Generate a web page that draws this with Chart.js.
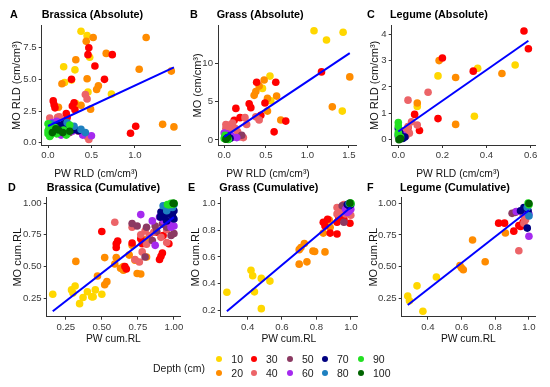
<!DOCTYPE html>
<html><head><meta charset="utf-8">
<script src="https://cdn.jsdelivr.net/npm/chart.js@4.4.0/dist/chart.umd.min.js"></script>
<style>
html,body{margin:0;padding:0;background:#fff;width:550px;height:387px;overflow:hidden;font-family:"Liberation Sans",Arial,sans-serif;}
#wrap{position:relative;width:550px;height:387px;}
.pc{position:absolute;}
.pt{position:absolute;font-weight:bold;font-size:10.8px;line-height:12px;height:12px;color:#000;white-space:nowrap;}
.lg{position:absolute;font-size:10.5px;line-height:12px;height:12px;color:#1a1a1a;white-space:nowrap;}
.xt{position:absolute;font-size:10.3px;line-height:12px;height:12px;color:#111;white-space:nowrap;transform:translateX(-50%);}
.dot{position:absolute;width:6px;height:6px;border-radius:50%;}
</style></head>
<body><div id="wrap"></div>
<script>
// ---------- categories ----------
const depths = [10, 20, 30, 40, 50, 60, 70, 80, 90, 100];

// ---------- A: Brassica (Absolute) ----------
const brassicaAbsX = [
  0.38,0.45,0.48,0.18,0.31,0.27,0.46,0.73,0.32,0.19,0.08,0.04,
  0.44,0.52,1.13,0.67,0.32,0.45,1.05,1.42,0.16,0.58,0.56,0.38,0.49,0.12,1.32,1.45,
  0.47,0.46,0.74,0.54,0.27,0.65,0.06,0.07,0.08,0.30,0.28,0.21,0.31,0.95,1.01,0.22,
  0.43,0.45,0.02,0.11,0.13,0.09,0.15,0.05,0.45,0.47,0.20,0.35,0.40,
  0.08,0.13,0.18,0.25,
  0.05,0.10,0.17,0.50,0.40,0.28,0.15,
  0.06,0.18,0.28,0.35,0.12,0.22,
  0.04,0.30,0.38,0.22,0.12,0.43,
  0.00,0.01,0.00,0.02,0.05,0.10,0.18,0.25,0.00,0.08,0.21,0.03,
  0.12,0.17,0.25,0.05,0.09];
const brassicaAbsY = [
  8.8,8.45,6.75,6.0,5.75,4.95,4.0,3.85,3.1,4.75,1.6,1.3,
  8.0,8.3,8.3,7.05,6.55,5.05,5.8,5.65,4.65,4.5,4.2,2.95,2.65,2.8,1.45,1.25,
  7.5,6.95,6.95,6.05,5.0,5.0,3.3,3.0,2.75,3.15,2.9,2.3,2.6,0.75,1.3,2.0,
  3.8,3.45,1.95,2.0,2.05,1.6,1.3,1.0,0.5,0.25,1.1,0.9,0.7,
  1.5,0.9,1.2,0.8,
  1.6,1.7,1.3,0.55,0.6,0.9,0.6,
  1.3,1.5,1.0,0.95,1.4,1.1,
  1.5,1.3,1.05,1.6,0.8,0.8,
  1.5,1.1,0.7,0.5,0.9,0.7,1.0,1.4,0.95,1.2,0.6,0.6,
  1.0,0.8,0.9,0.8,1.1];
const brassicaAbsD = [
  10,10,10,10,10,10,10,10,10,10,10,10,
  20,20,20,20,20,20,20,20,20,20,20,20,20,20,20,20,
  30,30,30,30,30,30,30,30,30,30,30,30,30,30,30,30,
  40,40,40,40,40,40,40,40,40,40,40,40,40,
  50,50,50,50,
  60,60,60,60,60,60,60,
  70,70,70,70,70,70,
  80,80,80,80,80,80,
  90,90,90,90,90,90,90,90,90,90,90,90,
  100,100,100,100,100];
const brassicaAbsFitX = [0.0, 1.45];
const brassicaAbsFitY = [1.32, 5.95];

// ---------- B: Grass (Absolute) ----------
const grassAbsX = [
  1.08,1.23,1.43,1.42,0.55,0.46,0.56,0.02,
  1.51,1.30,0.48,0.42,0.38,0.36,0.52,0.52,0.68,0.63,
  1.17,0.39,0.62,0.30,0.32,0.14,0.49,0.60,0.74,0.12,0.19,0.44,
  0.02,0.08,0.25,0.38,0.42,0.27,0.13,0.05,0.19,0.23,0.10,0.02,0.16,0.06,
  0.21,0.05,
  0.00,0.05,0.10,0.15,0.03,0.08,
  0.04,0.07,0.01,
  0.02,0.04,
  0.00,0.03,0.05,0.01,0.02,
  0.02,0.04];
const grassAbsY = [
  14.2,13.0,14.0,3.75,8.3,6.7,5.1,0.4,
  8.2,4.3,7.8,7.0,6.3,5.8,5.4,3.75,2.6,5.7,
  8.85,7.5,7.5,4.7,4.2,4.1,4.8,1.05,2.45,2.55,2.9,3.2,
  2.0,2.0,2.9,3.0,2.6,2.0,1.5,1.05,0.4,0.3,2.2,1.5,1.1,1.4,
  0.6,0.6,
  0.9,0.4,0.35,0.3,0.8,0.6,
  0.5,0.2,0.3,
  0.45,0.15,
  0.2,0.3,0.05,0.6,0.1,
  0.1,0.3];
const grassAbsD = [
  10,10,10,10,10,10,10,10,
  20,20,20,20,20,20,20,20,20,20,
  30,30,30,30,30,30,30,30,30,30,30,30,
  40,40,40,40,40,40,40,40,40,40,40,40,40,40,
  50,50,
  60,60,60,60,60,60,
  70,70,70,
  80,80,
  90,90,90,90,90,
  100,100];
const grassAbsFitX = [0.0, 1.51];
const grassAbsFitY = [0.4, 11.3];

// ---------- C: Legume (Absolute) ----------
const legumeAbsX = [
  0.53,0.36,0.18,0.086,0.345,
  0.185,0.26,0.47,0.086,0.26,
  0.57,0.59,0.20,0.34,0.074,0.18,0.096,0.044,
  0.044,0.135,0.06,0.086,0.044,0.03,0.05,0.015,0.007,0.035,
  0.007,0.02,
  0.0,0.01,0.02,0.005,
  0.0,0.007,0.03,0.015,0.02,
  0.005,0.0,
  0.0,0.0,0.0,0.005,0.0,0.01,
  0.003,0.01];
const legumeAbsY = [
  2.83,2.71,2.42,1.26,0.89,
  3.0,2.36,2.51,1.39,0.58,
  4.12,3.45,3.1,2.6,0.96,0.8,0.35,0.45,
  1.5,1.8,0.68,0.56,0.5,0.3,0.25,0.2,0.37,0.15,
  0.2,0.1,
  0.12,0.06,0.18,0.3,
  0.42,0.25,0.1,0.12,0.05,
  0.1,0.2,
  0.65,0.52,0.27,0.06,0.18,0.1,
  0.0,0.04];
const legumeAbsD = [
  10,10,10,10,10,
  20,20,20,20,20,
  30,30,30,30,30,30,30,30,
  40,40,40,40,40,40,40,40,40,40,
  50,50,
  60,60,60,60,
  70,70,70,70,70,
  80,80,
  90,90,90,90,90,90,
  100,100];
const legumeAbsFitX = [0.0, 0.59];
const legumeAbsFitY = [0.31, 3.75];

// ---------- D: Brassica (Cumulative) ----------
const brassicaCumX = [
  0.16,0.29,0.315,0.30,0.37,0.346,0.40,0.44,0.455,0.50,0.43,
  0.32,0.47,0.52,0.535,0.52,0.59,0.63,0.65,0.69,0.71,0.745,0.77,0.80,0.81,0.60,0.73,0.65,
  0.50,0.60,0.61,0.60,0.67,0.71,0.77,0.78,0.92,0.90,0.91,0.925,0.88,0.965,0.66,
  0.59,0.71,0.77,0.80,0.73,0.76,0.81,0.83,0.86,0.91,0.95,0.78,0.95,
  0.71,0.745,0.80,0.81,0.87,0.88,0.92,0.98,0.95,1.0,0.85,
  0.77,0.85,0.87,0.90,0.93,0.95,0.98,0.99,0.965,1.0,
  0.91,0.905,0.93,0.95,0.98,0.99,1.0,1.0,0.965,
  0.925,0.965,0.99,1.0,0.95,
  0.98,1.0,0.99,0.965,0.955,
  1.0,0.995];
const brassicaCumY = [
  0.28,0.315,0.346,0.29,0.255,0.206,0.30,0.26,0.315,0.28,0.26,
  0.54,0.425,0.355,0.38,0.57,0.52,0.485,0.50,0.59,0.667,0.445,0.44,0.71,0.575,0.57,0.55,0.47,
  0.776,0.68,0.70,0.65,0.48,0.685,0.72,0.68,0.607,0.555,0.58,0.745,0.77,0.68,0.50,
  0.85,0.81,0.75,0.78,0.555,0.535,0.675,0.745,0.77,0.73,0.79,0.615,0.69,
  0.84,0.82,0.575,0.81,0.82,0.78,0.835,0.745,0.81,0.76,0.705,
  0.91,0.86,0.667,0.89,0.86,0.915,0.81,0.94,0.85,0.82,
  0.93,0.89,0.89,0.86,0.966,0.90,0.875,0.94,0.915,
  0.98,0.966,0.966,0.99,0.94,
  1.0,1.0,0.99,0.987,0.99,
  0.997,1.0];
const brassicaCumD = [
  10,10,10,10,10,10,10,10,10,10,10,
  20,20,20,20,20,20,20,20,20,20,20,20,20,20,20,20,20,
  30,30,30,30,30,30,30,30,30,30,30,30,30,30,30,
  40,40,40,40,40,40,40,40,40,40,40,40,40,
  50,50,50,50,50,50,50,50,50,50,50,
  60,60,60,60,60,60,60,60,60,60,
  70,70,70,70,70,70,70,70,70,
  80,80,80,80,80,
  90,90,90,90,90,
  100,100];
const brassicaCumFitX = [0.16, 1.0];
const brassicaCumFitY = [0.146, 0.89];

// ---------- E: Grass (Cumulative) ----------
const grassCumX = [
  0.28,0.42,0.43,0.44,0.48,0.48,0.53,
  0.70,0.71,0.73,0.70,0.745,0.78,0.79,0.85,0.875,0.88,0.84,0.85,
  0.84,0.85,0.865,0.88,0.92,0.92,0.93,0.995,0.96,0.93,
  0.92,0.94,0.95,0.97,0.98,0.99,0.92,0.96,1.0,
  0.95,0.96,0.98,
  0.97,0.99,1.0,0.98,
  0.98,0.99,1.0,
  0.99,
  1.0,1.0,
  0.995];
const grassCumY = [
  0.337,0.50,0.46,0.34,0.44,0.215,0.42,
  0.654,0.67,0.70,0.546,0.563,0.644,0.64,0.637,0.875,0.82,0.777,0.85,
  0.858,0.83,0.88,0.777,0.77,0.858,0.894,0.85,0.88,0.92,
  0.968,0.93,0.968,0.92,0.94,0.98,0.92,0.99,0.91,
  0.98,0.858,0.968,
  0.955,0.94,0.955,0.93,
  0.99,0.98,0.99,
  0.997,
  1.0,0.997,
  1.0];
const grassCumD = [
  10,10,10,10,10,10,10,
  20,20,20,20,20,20,20,20,20,20,20,20,
  30,30,30,30,30,30,30,30,30,30,
  40,40,40,40,40,40,40,40,40,
  50,50,50,
  60,60,60,60,
  70,70,70,
  80,
  90,90,
  100];
const grassCumFitX = [0.28, 1.0];
const grassCumFitY = [0.195, 0.97];

// ---------- F: Legume (Cumulative) ----------
const legumeCumX = [
  0.28,0.29,0.335,0.37,0.45,
  0.59,0.60,0.61,0.665,0.74,0.86,
  0.82,0.855,0.91,0.94,0.95,0.965,
  0.94,0.965,0.97,0.975,0.98,0.965,
  0.90,0.92,0.99,
  0.925,1.0,0.98,1.0,
  0.95,0.99,0.97,0.995,
  1.0,0.99,
  0.995,1.0,
  1.0];
const legumeCumY = [
  0.27,0.232,0.35,0.15,0.42,
  0.51,0.49,0.477,0.71,0.54,0.765,
  0.843,0.843,0.78,0.825,0.817,0.85,
  0.626,0.915,0.843,0.884,0.87,0.928,
  0.92,0.928,0.946,
  0.935,0.74,0.928,0.915,
  0.94,0.804,0.966,0.94,
  0.90,0.966,
  1.0,0.987,
  0.997];
const legumeCumD = [
  10,10,10,10,10,
  20,20,20,20,20,20,
  30,30,30,30,30,30,
  40,40,40,40,40,40,
  50,50,50,
  60,60,60,60,
  70,70,70,70,
  80,80,
  90,90,
  100];
const legumeCumFitX = [0.28, 1.0];
const legumeCumFitY = [0.20, 0.945];

// ---------- tick labels ----------
const ticksAbsBX = [0, 0.5, 1.0];          const labelsAbsBX = ["0.0","0.5","1.0"];
const ticksAbsBY = [0, 2.5, 5, 7.5];       const labelsAbsBY = ["0.0","2.5","5.0","7.5"];
const ticksAbsGX = [0, 0.5, 1.0, 1.5];     const labelsAbsGX = ["0.0","0.5","1.0","1.5"];
const ticksAbsGY = [0, 5, 10];             const labelsAbsGY = ["0","5","10"];
const ticksAbsLX = [0, 0.2, 0.4, 0.6];     const labelsAbsLX = ["0.0","0.2","0.4","0.6"];
const ticksAbsLY = [0, 1, 2, 3, 4];        const labelsAbsLY = ["0","1","2","3","4"];
const ticksCumBX = [0.25, 0.5, 0.75, 1.0]; const labelsCumBX = ["0.25","0.50","0.75","1.00"];
const ticksCumBY = [0.25, 0.5, 0.75, 1.0]; const labelsCumBY = ["0.25","0.50","0.75","1.00"];
const ticksCumGX = [0.4, 0.6, 0.8, 1.0];   const labelsCumGX = ["0.4","0.6","0.8","1.0"];
const ticksCumGY = [0.2, 0.4, 0.6, 0.8, 1.0]; const labelsCumGY = ["0.2","0.4","0.6","0.8","1.0"];
const ticksCumLX = [0.4, 0.6, 0.8, 1.0];   const labelsCumLX = ["0.4","0.6","0.8","1.0"];
const ticksCumLY = [0.25, 0.5, 0.75, 1.0]; const labelsCumLY = ["0.25","0.50","0.75","1.00"];

// ---------- styles ----------
const depthColors = ['#FFD700','#FF8C00','#FF0000','#EC6468','#8B3A62','#A52AEF','#000080','#1E80C0','#22E022','#006400'];
const FONT = '"Liberation Sans", Arial, sans-serif';
const wrap = document.getElementById('wrap');

function panel(c) {
  const box = c.box, plot = c.plot;
  const w = box[2] - box[0], h = box[3] - box[1];
  const div = document.createElement('div');
  div.className = 'pc';
  div.style.left = box[0] + 'px'; div.style.top = box[1] + 'px';
  div.style.width = w + 'px'; div.style.height = h + 'px';
  const cv = document.createElement('canvas');
  cv.width = w; cv.height = h; cv.style.width = w + 'px'; cv.style.height = h + 'px';
  div.appendChild(cv); wrap.appendChild(div);

  const datasets = depths.map((d, k) => ({
    type: 'scatter',
    label: String(d),
    order: depths.length - k,
    data: c.xs.map((x, i) => ({x: x, y: c.ys[i], d: c.ds[i]})).filter(p => p.d === d),
    backgroundColor: depthColors[k],
    borderWidth: 0,
    pointRadius: 3.8,
    pointHoverRadius: 3.8
  }));
  datasets.push({
    type: 'line', label: 'fit', order: 0,
    data: c.fx.map((x, i) => ({x: x, y: c.fy[i]})),
    borderColor: '#0000FF', borderWidth: 2, pointRadius: 0, fill: false, tension: 0
  });
  const xSize = 10.3, ySize = 11;
  const tickFont = {family: FONT, size: 9.6};
  new Chart(cv, {
    type: 'scatter',
    data: {datasets: datasets},
    options: {
      responsive: false, animation: false, devicePixelRatio: 1,
      layout: {padding: {top: plot[1] - box[1], right: box[2] - plot[2], left: 0, bottom: 0}},
      plugins: {legend: {display: false}, tooltip: {enabled: false}},
      scales: {
        x: {
          type: 'linear', position: 'bottom', min: c.xr[0], max: c.xr[1],
          afterBuildTicks: s => { s.ticks = c.xt.map(v => ({value: v})); },
          afterFit: s => { s.height = box[3] - plot[3]; },
          ticks: {autoSkip: false, maxRotation: 0, padding: 1.5, color: '#3a3a3a', font: tickFont,
                  callback: v => c.xl[c.xt.indexOf(v)]},
          grid: {drawOnChartArea: false, drawTicks: true, tickLength: 3, color: '#333', lineWidth: 1},
          border: {display: true, color: '#333', width: 1},
          title: {display: c.xTitleInChart, text: c.xTitle, color: '#111', font: {family: FONT, size: xSize},
                  padding: {top: 0, bottom: box[3] - c.xTitleY - xSize * 0.6}}
        },
        y: {
          type: 'linear', position: 'left', min: c.yr[0], max: c.yr[1],
          afterBuildTicks: s => { s.ticks = c.yt.map(v => ({value: v})); },
          afterFit: s => { s.width = plot[0] - box[0]; },
          ticks: {autoSkip: false, padding: 2, color: '#3a3a3a', font: tickFont,
                  callback: v => c.yl[c.yt.indexOf(v)]},
          grid: {drawOnChartArea: false, drawTicks: true, tickLength: 3, color: '#333', lineWidth: 1},
          border: {display: true, color: '#333', width: 1},
          title: {display: true, text: c.yTitle, color: '#111', font: {family: FONT, size: ySize},
                  padding: {top: c.yTitleX - box[0] - ySize * 0.6, bottom: 0}}
        }
      }
    }
  });
  if (!c.xTitleInChart) {
    const t = document.createElement('div');
    t.className = 'xt'; t.textContent = c.xTitle;
    t.style.left = c.xTitleX + 'px'; t.style.top = (c.xTitleY - 6) + 'px';
    wrap.appendChild(t);
  }
}

function text(cls, str, left, cy) {
  const s = document.createElement('div');
  s.className = cls; s.textContent = str;
  s.style.left = left + 'px'; s.style.top = (cy - 6) + 'px';
  wrap.appendChild(s);
}

panel({box:[0,18,186,186], plot:[41.7,25,180,145], xs:brassicaAbsX, ys:brassicaAbsY, ds:brassicaAbsD,
  fx:brassicaAbsFitX, fy:brassicaAbsFitY, xr:[-0.073,1.52], yr:[-0.18,9.23],
  xt:ticksAbsBX, xl:labelsAbsBX, yt:ticksAbsBY, yl:labelsAbsBY,
  xTitle:'PW RLD (cm/cm³)', yTitle:'MO RLD (cm/cm³)', yTitleX:17, xTitleY:173.5, xTitleX:96, xTitleInChart:false});
panel({box:[183,18,366,186], plot:[218,25,356,145], xs:grassAbsX, ys:grassAbsY, ds:grassAbsD,
  fx:grassAbsFitX, fy:grassAbsFitY, xr:[-0.075,1.585], yr:[-0.66,14.85],
  xt:ticksAbsGX, xl:labelsAbsGX, yt:ticksAbsGY, yl:labelsAbsGY,
  xTitle:'PW RLD (cm/cm³)', yTitle:'MO (cm/cm³)', yTitleX:198, xTitleY:173.5, xTitleX:268, xTitleInChart:false});
panel({box:[366,18,550,186], plot:[391.7,25,535,145], xs:legumeAbsX, ys:legumeAbsY, ds:legumeAbsD,
  fx:legumeAbsFitX, fy:legumeAbsFitY, xr:[-0.03,0.62], yr:[-0.2,4.32],
  xt:ticksAbsLX, xl:labelsAbsLX, yt:ticksAbsLY, yl:labelsAbsLY,
  xTitle:'PW RLD (cm/cm³)', yTitle:'MO RLD (cm/cm³)', yTitleX:375, xTitleY:173.5, xTitleX:458, xTitleInChart:false});
panel({box:[0,190,186,350], plot:[46.7,197,180,316.7], xs:brassicaCumX, ys:brassicaCumY, ds:brassicaCumD,
  fx:brassicaCumFitX, fy:brassicaCumFitY, xr:[0.118,1.042], yr:[0.103,1.043],
  xt:ticksCumBX, xl:labelsCumBX, yt:ticksCumBY, yl:labelsCumBY,
  xTitle:'PW cum.RL', yTitle:'MO cum.RL', yTitleX:17.5, xTitleY:339.5, xTitleInChart:true});
panel({box:[183,190,366,350], plot:[220.7,197,357,316.7], xs:grassCumX, ys:grassCumY, ds:grassCumD,
  fx:grassCumFitX, fy:grassCumFitY, xr:[0.244,1.036], yr:[0.155,1.04],
  xt:ticksCumGX, xl:labelsCumGX, yt:ticksCumGY, yl:labelsCumGY,
  xTitle:'PW cum.RL', yTitle:'MO cum.RL', yTitleX:195.5, xTitleY:339.5, xTitleInChart:true});
panel({box:[366,190,550,350], plot:[401.7,197,535,316.7], xs:legumeCumX, ys:legumeCumY, ds:legumeCumD,
  fx:legumeCumFitX, fy:legumeCumFitY, xr:[0.244,1.036], yr:[0.1075,1.0425],
  xt:ticksCumLX, xl:labelsCumLX, yt:ticksCumLY, yl:labelsCumLY,
  xTitle:'PW cum.RL', yTitle:'MO cum.RL', yTitleX:374, xTitleY:339.5, xTitleInChart:true});

// panel letters and titles
text('pt','A',10,14);  text('pt','Brassica (Absolute)',41.7,14);
text('pt','B',190,14); text('pt','Grass (Absolute)',216.7,14);
text('pt','C',367,14); text('pt','Legume (Absolute)',390,14);
text('pt','D',8,187);  text('pt','Brassica (Cumulative)',46.7,187);
text('pt','E',188,187); text('pt','Grass (Cumulative)',219.3,187);
text('pt','F',367,187); text('pt','Legume (Cumulative)',400,187);

// legend
text('lg','Depth (cm)',153,367.5);
const colX = [219.3, 254, 290, 325, 361];
const rowY = [359.3, 373.3];
depths.forEach((d, k) => {
  const cx = colX[Math.floor(k / 2)], cy = rowY[k % 2];
  const dot = document.createElement('div');
  dot.className = 'dot';
  dot.style.left = (cx - 3) + 'px'; dot.style.top = (cy - 3) + 'px';
  dot.style.background = depthColors[k];
  wrap.appendChild(dot);
  text('lg', String(d), cx + 12, cy);
});
</script>
</body></html>
